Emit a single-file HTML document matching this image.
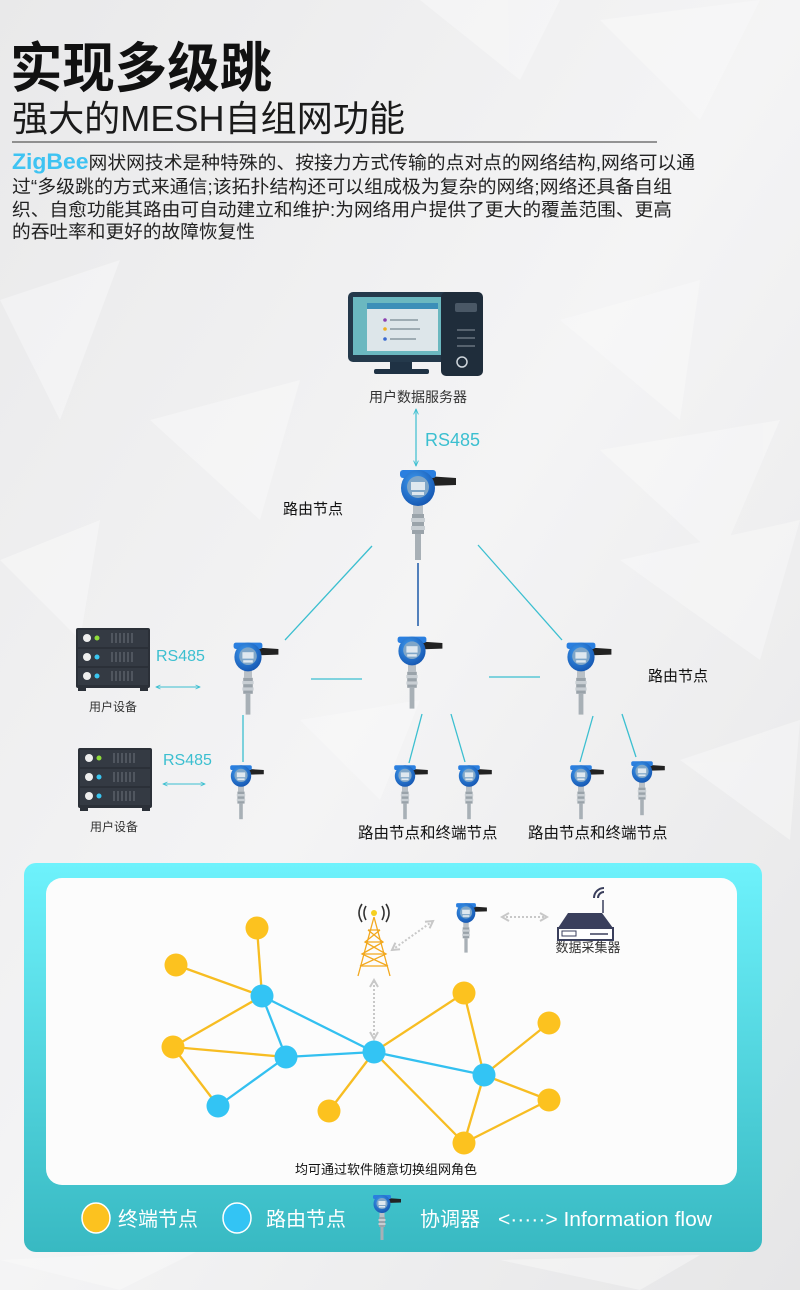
<!DOCTYPE html>
<html><head><meta charset="utf-8"><style>
html,body{margin:0;padding:0;width:800px;height:1290px;overflow:hidden;background:#efefef}
svg{display:block}
text{font-family:"Liberation Sans","Noto Sans CJK SC",sans-serif}
</style></head><body>
<svg width="800" height="1290" viewBox="0 0 800 1290" xmlns="http://www.w3.org/2000/svg">
<defs>
<linearGradient id="bg" x1="0" y1="0" x2="1" y2="1">
<stop offset="0" stop-color="#e9e9ea"/><stop offset="0.5" stop-color="#f4f4f5"/><stop offset="1" stop-color="#e6e6e7"/></linearGradient>
<linearGradient id="panel" x1="0" y1="0" x2="0" y2="1">
<stop offset="0" stop-color="#6ef2fc"/><stop offset="1" stop-color="#38b9c2"/></linearGradient>
<radialGradient id="head" cx="0.4" cy="0.35" r="0.7"><stop offset="0" stop-color="#3f9bf0"/><stop offset="1" stop-color="#1455b0"/></radialGradient>
<g id="tx">
<path d="M8,-12 L38,-10 L38,-3 L10,-2 Z" fill="#222"/>
<rect x="-5" y="12" width="10" height="14" fill="#b9c0c6"/>
<rect x="-6" y="26" width="12" height="20" fill="#9aa3aa"/>
<rect x="-7" y="30" width="14" height="4" fill="#c8ced3"/>
<rect x="-7" y="38" width="14" height="4" fill="#c8ced3"/>
<rect x="-3" y="46" width="6" height="26" fill="#a8b0b6"/>
<rect x="-18" y="-18" width="36" height="8" rx="3" fill="#2a7fe0"/>
<ellipse cx="0" cy="0" rx="17" ry="18" fill="url(#head)"/>
<circle cx="0" cy="-1" r="11" fill="#7fa6c8"/>
<rect x="-7" y="-6" width="14" height="8" fill="#dfe8ef"/>
<rect x="-6" y="4" width="12" height="3" fill="#dfe8ef"/>
</g>
<g id="rack">
<rect x="0" y="0" width="74" height="60" rx="2" fill="#2b3038"/>
<rect x="2" y="2" width="70" height="17" fill="#343a43"/><rect x="2" y="21" width="70" height="17" fill="#343a43"/><rect x="2" y="40" width="70" height="17" fill="#343a43"/>
<circle cx="11" cy="10" r="4" fill="#eee"/><circle cx="21" cy="10" r="2.5" fill="#8fdc3a"/>
<circle cx="11" cy="29" r="4" fill="#eee"/><circle cx="21" cy="29" r="2.5" fill="#3ac6f0"/>
<circle cx="11" cy="48" r="4" fill="#eee"/><circle cx="21" cy="48" r="2.5" fill="#3ac6f0"/>
<g stroke="#5a6069" stroke-width="1.5"><path d="M36,5v10M40,5v10M44,5v10M48,5v10M52,5v10M56,5v10M36,24v10M40,24v10M44,24v10M48,24v10M52,24v10M56,24v10M36,43v10M40,43v10M44,43v10M48,43v10M52,43v10M56,43v10"/></g>
<rect x="2" y="60" width="8" height="3" fill="#2b3038"/><rect x="64" y="60" width="8" height="3" fill="#2b3038"/>
</g>
<marker id="ah" viewBox="0 0 10 10" refX="9" refY="5" markerWidth="5" markerHeight="5" orient="auto-start-reverse"><path d="M0,1 L9,5 L0,9" fill="none" stroke="#3bbfd0" stroke-width="1.5"/></marker>
<marker id="ag" viewBox="0 0 10 10" refX="8" refY="5" markerWidth="5" markerHeight="5" orient="auto-start-reverse"><path d="M1,1 L8,5 L1,9" fill="none" stroke="#c8c8c8" stroke-width="2"/></marker>
</defs>
<rect width="800" height="1290" fill="url(#bg)"/>
<g fill="#fbfbfb" opacity="0.45">
<path d="M420,0 L560,0 L520,80 Z"/><path d="M600,20 L760,0 L700,120 Z"/><path d="M0,300 L120,260 L60,420 Z"/><path d="M560,320 L700,280 L680,420 Z"/><path d="M150,420 L300,380 L260,520 Z"/><path d="M600,450 L780,420 L720,560 Z"/><path d="M0,560 L100,520 L80,640 Z"/><path d="M620,560 L800,520 L760,660 Z"/><path d="M300,720 L420,700 L380,800 Z"/><path d="M680,760 L800,720 L790,840 Z"/><path d="M0,1260 L200,1250 L120,1290 Z"/><path d="M500,1260 L700,1255 L640,1290 Z"/>
</g>

<!-- header text -->
<text x="10" y="87" font-size="54" font-weight="bold" fill="#111" textLength="262" lengthAdjust="spacingAndGlyphs">实现多级跳</text>
<text x="12" y="131" font-size="36" fill="#1a1a1a" textLength="393" lengthAdjust="spacingAndGlyphs">强大的MESH自组网功能</text>
<line x1="12" y1="142" x2="657" y2="142" stroke="#333" stroke-width="1"/>
<text x="12" y="169" font-size="18" fill="#222" textLength="683" lengthAdjust="spacingAndGlyphs"><tspan font-size="22" font-weight="bold" fill="#3ec3f2">ZigBee</tspan>网状网技术是种特殊的、按接力方式传输的点对点的网络结构,网络可以通</text>
<text x="12" y="193" font-size="18" fill="#222" textLength="660" lengthAdjust="spacingAndGlyphs">过“多级跳的方式来通信;该拓扑结构还可以组成极为复杂的网络;网络还具备自组</text>
<text x="12" y="216" font-size="18" fill="#222" textLength="660" lengthAdjust="spacingAndGlyphs">织、自愈功能其路由可自动建立和维护:为网络用户提供了更大的覆盖范围、更高</text>
<text x="12" y="238" font-size="18" fill="#222" textLength="243" lengthAdjust="spacingAndGlyphs">的吞吐率和更好的故障恢复性</text>

<!-- computer -->
<rect x="348" y="292" width="107" height="70" rx="5" fill="#24394b"/>
<rect x="353" y="297" width="97" height="58" fill="#6bb8c0"/>
<rect x="367" y="303" width="71" height="48" fill="#dde6ea"/>
<rect x="367" y="303" width="71" height="6" fill="#3c8fb8"/>
<circle cx="385" cy="320" r="1.8" fill="#8a3fb0"/><line x1="390" y1="320" x2="418" y2="320" stroke="#7a8a92" stroke-width="1.2"/>
<circle cx="385" cy="329" r="1.8" fill="#f0b020"/><line x1="390" y1="329" x2="420" y2="329" stroke="#7a8a92" stroke-width="1.2"/>
<circle cx="385" cy="339" r="1.8" fill="#3a6ad0"/><line x1="390" y1="339" x2="416" y2="339" stroke="#7a8a92" stroke-width="1.2"/>
<rect x="390" y="362" width="22" height="8" fill="#1f3244"/>
<rect x="374" y="369" width="55" height="5" rx="2" fill="#1f3244"/>
<rect x="441" y="292" width="42" height="84" rx="5" fill="#1f2d3b"/>
<rect x="455" y="303" width="22" height="9" rx="2" fill="#4a5866"/>
<g stroke="#56626e" stroke-width="2"><path d="M457,330h18M457,338h18M457,346h18"/></g>
<circle cx="462" cy="362" r="5" fill="none" stroke="#cfd6dc" stroke-width="1.5"/>
<text x="418" y="402" font-size="14" fill="#333" text-anchor="middle">用户数据服务器</text>

<line x1="416" y1="409" x2="416" y2="466" stroke="#3bbfd0" stroke-width="1.2" marker-start="url(#ah)" marker-end="url(#ah)"/>
<text x="425" y="446" font-size="18" fill="#3bbfd0">RS485</text>

<use href="#tx" transform="translate(418,488) scale(1)"/>
<text x="283" y="514" font-size="15" fill="#111">路由节点</text>

<!-- connectors -->
<g stroke="#3bbfd0" stroke-width="1.3">
<line x1="372" y1="546" x2="285" y2="640"/>
<line x1="478" y1="545" x2="562" y2="640"/>
<line x1="311" y1="679" x2="362" y2="679"/>
<line x1="489" y1="677" x2="540" y2="677"/>
<line x1="243" y1="715" x2="243" y2="762"/>
<line x1="422" y1="714" x2="409" y2="763"/>
<line x1="451" y1="714" x2="465" y2="762"/>
<line x1="593" y1="716" x2="580" y2="762"/>
<line x1="622" y1="714" x2="636" y2="757"/>
</g>
<line x1="418" y1="563" x2="418" y2="626" stroke="#1d5aa8" stroke-width="1.5"/>

<use href="#tx" transform="translate(248,657) scale(0.8)"/>
<use href="#tx" transform="translate(412,651) scale(0.8)"/>
<use href="#tx" transform="translate(581,657) scale(0.8)"/>
<text x="648" y="681" font-size="15" fill="#111">路由节点</text>

<use href="#tx" transform="translate(241,776) scale(0.6)"/>
<use href="#tx" transform="translate(405,776) scale(0.6)"/>
<use href="#tx" transform="translate(469,776) scale(0.6)"/>
<use href="#tx" transform="translate(581,776) scale(0.6)"/>
<use href="#tx" transform="translate(642,772) scale(0.6)"/>

<use href="#rack" transform="translate(76,628)"/>
<text x="113" y="711" font-size="12" fill="#333" text-anchor="middle">用户设备</text>
<text x="156" y="661" font-size="16" fill="#3bbfd0">RS485</text>
<line x1="156" y1="687" x2="200" y2="687" stroke="#3bbfd0" stroke-width="1" marker-start="url(#ah)" marker-end="url(#ah)"/>

<use href="#rack" transform="translate(78,748)"/>
<text x="114" y="831" font-size="12" fill="#333" text-anchor="middle">用户设备</text>
<text x="163" y="765" font-size="16" fill="#3bbfd0">RS485</text>
<line x1="163" y1="784" x2="205" y2="784" stroke="#3bbfd0" stroke-width="1" marker-start="url(#ah)" marker-end="url(#ah)"/>

<text x="358" y="838" font-size="15.5" fill="#111">路由节点和终端节点</text>
<text x="528" y="838" font-size="15.5" fill="#111">路由节点和终端节点</text>

<!-- bottom panel -->
<rect x="24" y="863" width="738" height="389" rx="12" fill="url(#panel)"/>
<rect x="46" y="878" width="691" height="307" rx="16" fill="#fcfcfc"/>

<!-- tower -->
<g stroke="#f2a81e" stroke-width="1.3" fill="none">
<path d="M374,917 L358,976 M374,917 L390,976"/>
<path d="M368,930h12M365,942h18M362,954h24M360,966h28"/>
<path d="M368,930 L383,942 L362,954 L388,966 M380,930 L365,942 L386,954 L360,966"/>
</g>
<circle cx="374" cy="913" r="3" fill="#f5d020"/>
<g stroke="#333" stroke-width="1.6" fill="none"><path d="M366,906 q-4,7 0,14 M382,906 q4,7 0,14 M362,904 q-6,9 0,18 M386,904 q6,9 0,18"/></g>
<line x1="392" y1="950" x2="433" y2="921" stroke="#c8c8c8" stroke-width="2" stroke-dasharray="2,2" marker-start="url(#ag)" marker-end="url(#ag)"/>
<line x1="374" y1="1039" x2="374" y2="980" stroke="#c8c8c8" stroke-width="2" stroke-dasharray="2,2" marker-start="url(#ag)" marker-end="url(#ag)"/>
<use href="#tx" transform="translate(466,913) scale(0.55)"/>
<line x1="502" y1="917" x2="547" y2="917" stroke="#c8c8c8" stroke-width="2" stroke-dasharray="2,2" marker-start="url(#ag)" marker-end="url(#ag)"/>
<path d="M558,928 L568,913 L602,913 L613,928 Z" fill="#3a3f5c"/>
<rect x="558" y="928" width="55" height="12" fill="#fff" stroke="#3a3f5c" stroke-width="2"/>
<rect x="562" y="931" width="14" height="5" fill="none" stroke="#3a3f5c" stroke-width="1"/>
<line x1="590" y1="934" x2="608" y2="934" stroke="#3a3f5c" stroke-width="1.5"/>
<line x1="603" y1="913" x2="603" y2="900" stroke="#3a3f5c" stroke-width="1.5"/>
<g stroke="#3a3f5c" stroke-width="2" fill="none"><path d="M598,898 a6,6 0 0 1 6,-6 M594,898 a10,10 0 0 1 10,-10"/></g>
<text x="588" y="952" font-size="13" fill="#333" text-anchor="middle">数据采集器</text>

<!-- mesh edges -->
<g stroke="#f7bd22" stroke-width="2.3">
<line x1="257" y1="928" x2="262" y2="996"/>
<line x1="176" y1="965" x2="262" y2="996"/>
<line x1="262" y1="996" x2="173" y2="1047"/>
<line x1="173" y1="1047" x2="286" y2="1057"/>
<line x1="173" y1="1047" x2="218" y2="1106"/>
<line x1="374" y1="1052" x2="329" y2="1111"/>
<line x1="374" y1="1052" x2="464" y2="993"/>
<line x1="374" y1="1052" x2="464" y2="1143"/>
<line x1="464" y1="993" x2="484" y2="1075"/>
<line x1="484" y1="1075" x2="549" y2="1023"/>
<line x1="484" y1="1075" x2="549" y2="1100"/>
<line x1="484" y1="1075" x2="464" y2="1143"/>
<line x1="549" y1="1100" x2="464" y2="1143"/>
</g>
<g stroke="#33c0f0" stroke-width="2.3">
<line x1="262" y1="996" x2="286" y2="1057"/>
<line x1="286" y1="1057" x2="218" y2="1106"/>
<line x1="262" y1="996" x2="374" y2="1052"/>
<line x1="286" y1="1057" x2="374" y2="1052"/>
<line x1="374" y1="1052" x2="484" y2="1075"/>
</g>
<g fill="#fcc21f">
<circle cx="257" cy="928" r="11.5"/><circle cx="176" cy="965" r="11.5"/><circle cx="173" cy="1047" r="11.5"/><circle cx="329" cy="1111" r="11.5"/><circle cx="464" cy="993" r="11.5"/><circle cx="549" cy="1023" r="11.5"/><circle cx="549" cy="1100" r="11.5"/><circle cx="464" cy="1143" r="11.5"/>
</g>
<g fill="#33c4f4">
<circle cx="262" cy="996" r="11.5"/><circle cx="286" cy="1057" r="11.5"/><circle cx="218" cy="1106" r="11.5"/><circle cx="374" cy="1052" r="11.5"/><circle cx="484" cy="1075" r="11.5"/>
</g>
<text x="386" y="1174" font-size="13" fill="#111" text-anchor="middle">均可通过软件随意切换组网角色</text>

<!-- legend -->
<ellipse cx="96" cy="1218" rx="14" ry="15" fill="#fcc21f" stroke="#fff" stroke-width="1.5"/>
<text x="118" y="1226" font-size="20" fill="#fff">终端节点</text>
<ellipse cx="237" cy="1218" rx="14" ry="15" fill="#33c4f4" stroke="#fff" stroke-width="1.5"/>
<text x="266" y="1226" font-size="20" fill="#fff">路由节点</text>
<use href="#tx" transform="translate(382,1204) scale(0.5)"/>
<text x="420" y="1226" font-size="20" fill="#fff">协调器</text>
<text x="498" y="1226" font-size="20" fill="#fff" textLength="214" lengthAdjust="spacingAndGlyphs">&lt;·····&gt; Information flow</text>
</svg>
</body></html>
